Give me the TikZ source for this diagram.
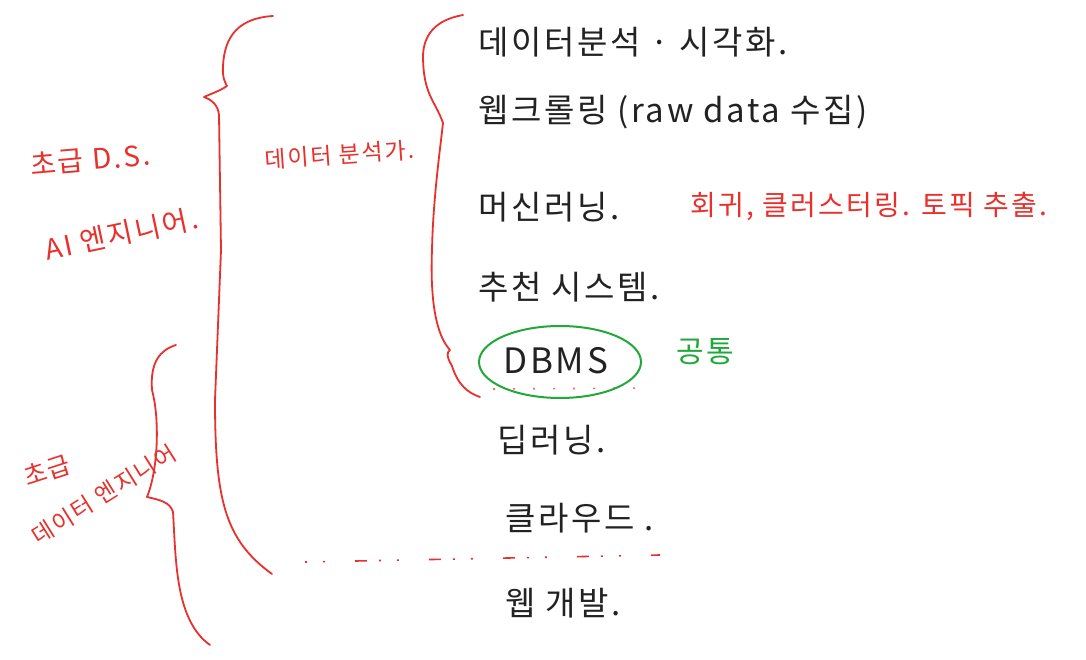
\documentclass[tikz,border=0pt]{standalone}
\usepackage{fontspec}
\setmainfont{Noto Sans CJK KR}
\newfontfamily\hand[LetterSpace=8]{Noto Sans CJK KR}
\usetikzlibrary{calc,shapes.geometric}
\definecolor{pen}{HTML}{E8302C}
\definecolor{ink}{HTML}{222222}
\definecolor{grn}{HTML}{22A83A}
\tikzset{
  brace/.style={draw=pen, line width=1.8pt, line cap=round, line join=round},
  item/.style={anchor=west, text=ink, font=\hand\fontsize{33}{36}\selectfont, inner sep=0pt},
  note/.style={anchor=west, text=pen, font=\hand\fontsize{26}{30}\selectfont, inner sep=0pt},
}
\begin{document}
\begin{tikzpicture}[x=1pt,y=-1pt]
\useasboundingbox (0,0) rectangle (1086,660);
\fill[white] (0,0) rectangle (1086,660);

% big left brace
\draw[brace] (273,16) .. controls (240,18) and (224,35) .. (223,67)
  .. controls (222,78) and (226,84) .. (227,86)
  .. controls (218,92) and (210,94) .. (204,97)
  .. controls (212,100) and (218,105) .. (219,115)
  -- (221,250) -- (215,400)
  .. controls (215,500) and (225,540) .. (272,574);

% middle brace
\draw[brace] (463,15) .. controls (435,20) and (424,35) .. (423,55)
  .. controls (423,95) and (435,100) .. (443,123)
  .. controls (440,150) and (433,200) .. (432,250)
  .. controls (430,300) and (436,335) .. (450,350)
  .. controls (447,352) and (446,356) .. (452,366)
  .. controls (458,385) and (468,393) .. (480,397);

% lower-left brace
\draw[brace] (176,345) .. controls (160,350) and (150,362) .. (152,390)
  .. controls (160,420) and (158,470) .. (147,497)
  .. controls (160,500) and (170,502) .. (173,512)
  .. controls (176,560) and (175,620) .. (210,645);

% red dashed lines
\draw[pen, line width=1.6pt, dash pattern=on 2pt off 16pt on 2pt off 30pt on 12pt off 12pt] (305,562) -- (660,555);
\draw[pen!70, line width=1.6pt, dash pattern=on 2pt off 18pt] (493,389) -- (645,388);

% red labels
\node[note, font=\hand\fontsize{28}{30}\selectfont, rotate=5] (ds) at (30,165) {초급 D.S.};
\node[note, font=\hand\fontsize{28}{30}\selectfont, rotate=12] (ai) at (45,250) {AI 엔지니어.};
\node[note, font=\hand\fontsize{23}{30}\selectfont, rotate=4] (da) at (265,160) {데이터 분석가.};
\node[note, font=\hand\fontsize{25}{30}\selectfont, rotate=18] (de1) at (24,478) {초급};
\node[note, font=\hand\fontsize{23}{30}\selectfont, rotate=32] (de2) at (34,538) {데이터 엔지니어};

% black items
\node[item] (a) at (478,42) {데이터분석 · 시각화.};
\node[item] (b) at (478,112) {웹크롤링 (raw data 수집)};
\node[item] (c) at (478,207) {머신러닝.};
\node[note, font=\hand\fontsize{28}{30}\selectfont] (c2) at (690,207) {회귀, 클러스터링. 토픽 추출.};
\node[item] (d) at (478,287) {추천 시스템.};
\node[item, font=\hand\fontsize{35}{36}\selectfont] (e) at (503,361) {DBMS};
\node[draw=grn, line width=2pt, ellipse, minimum width=162pt, minimum height=72pt, inner sep=0pt] (ring) at (560,362) {};
\node[anchor=west, text=grn, font=\hand\fontsize{30}{30}\selectfont, inner sep=0pt] (cm) at (676,352) {공통};
\node[item] (f) at (497,440) {딥러닝.};
\node[item] (g) at (505,518) {클라우드 .};
\node[item] (h) at (505,603) {웹 개발.};
\end{tikzpicture}
\end{document}
